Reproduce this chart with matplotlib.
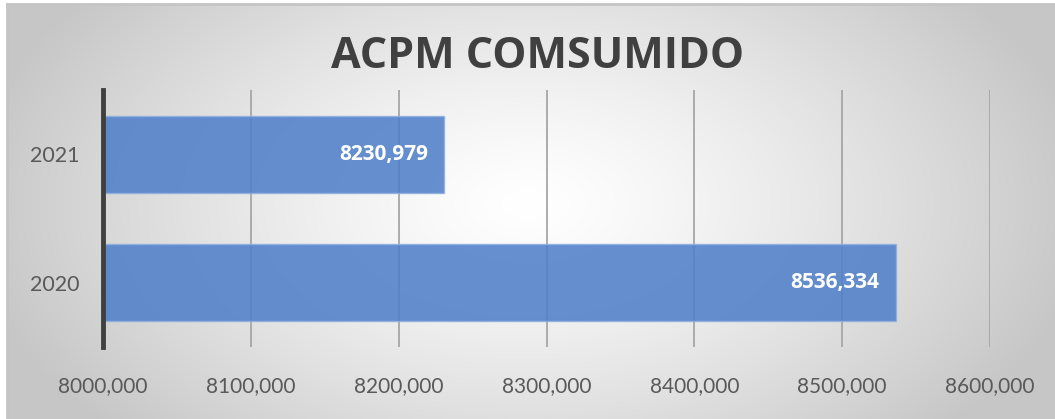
import numpy as np
import matplotlib.pyplot as plt

years = ['2020', '2021']
values = [8536.334, 8230.979]
xticks = [8000, 8100, 8200, 8300, 8400, 8500, 8600]
xlabels = ['8000,000', '8100,000', '8200,000', '8300,000', '8400,000', '8500,000', '8600,000']
labels = ['8536,334', '8230,979']

plt.rcParams['font.family'] = ['Lato', 'DejaVu Sans']
bold_font = ['Open Sans', 'DejaVu Sans']

fig = plt.figure(figsize=(10.55, 4.19), dpi=100)

# fondo con degradado radial
bg = fig.add_axes([7 / 1055, 0, 1 - 7 / 1055, 1 - 4 / 419])
yy, xx = np.mgrid[0:415, 0:1048]
cx, cy = 520, 200
r = np.sqrt(((xx - cx) / 560.0) ** 2 + ((yy - cy) / 330.0) ** 2)
r = np.clip(r, 0, 1)
shade = 1.0 - 0.22 * r ** 1.3
img = np.dstack([shade, shade, shade])
bg.imshow(img, aspect='auto', extent=[0, 1, 0, 1], origin='upper')
bg.set_xlim(0, 1)
bg.set_ylim(0, 1)
bg.set_xticks([])
bg.set_yticks([])
for s in bg.spines.values():
    s.set_visible(False)
bg.spines['top'].set_visible(True)
bg.spines['left'].set_visible(True)
bg.spines['top'].set_color('#c4c4c4')
bg.spines['left'].set_color('#c4c4c4')
bg.spines['top'].set_linewidth(2)
bg.spines['left'].set_linewidth(2)

ax = fig.add_axes([103 / 1055, 1 - 347 / 419, 887 / 1055, 257 / 419])
ax.patch.set_alpha(0)
ax.barh(range(len(years)), [v - 8000 for v in values], left=8000, height=0.6,
        color='#5080c8', alpha=0.88, edgecolor='#8fb0e0', linewidth=1, zorder=3)
for i, (v, lab) in enumerate(zip(values, labels)):
    ax.text(v - 11, i, lab, ha='right', va='center', color='white',
            fontsize=15, fontweight='bold', family=bold_font, zorder=4)

ax.set_xlim(8000, 8600)
ax.set_ylim(-0.5, 1.5)
ax.set_xticks(xticks)
ax.set_xticklabels(xlabels, fontsize=15, color='#595959')
ax.set_yticks(range(len(years)))
ax.set_yticklabels(years, fontsize=15.5, color='#595959')
ax.tick_params(length=0, pad=21)
ax.tick_params(axis='y', pad=17)
ax.grid(axis='x', color='#a6a6a6', linewidth=1.3, zorder=1)
for s in ['top', 'right', 'bottom']:
    ax.spines[s].set_visible(False)
ax.spines['left'].set_color('#404040')
ax.spines['left'].set_linewidth(3.5)
ax.spines['left'].set_zorder(5)

fig.text(538 / 1055, 1 - 57 / 419, 'ACPM COMSUMIDO', ha='center', va='center',
         fontsize=31, fontweight='bold', family=bold_font, color='#404040')

fig.savefig('out.png', dpi=100)
